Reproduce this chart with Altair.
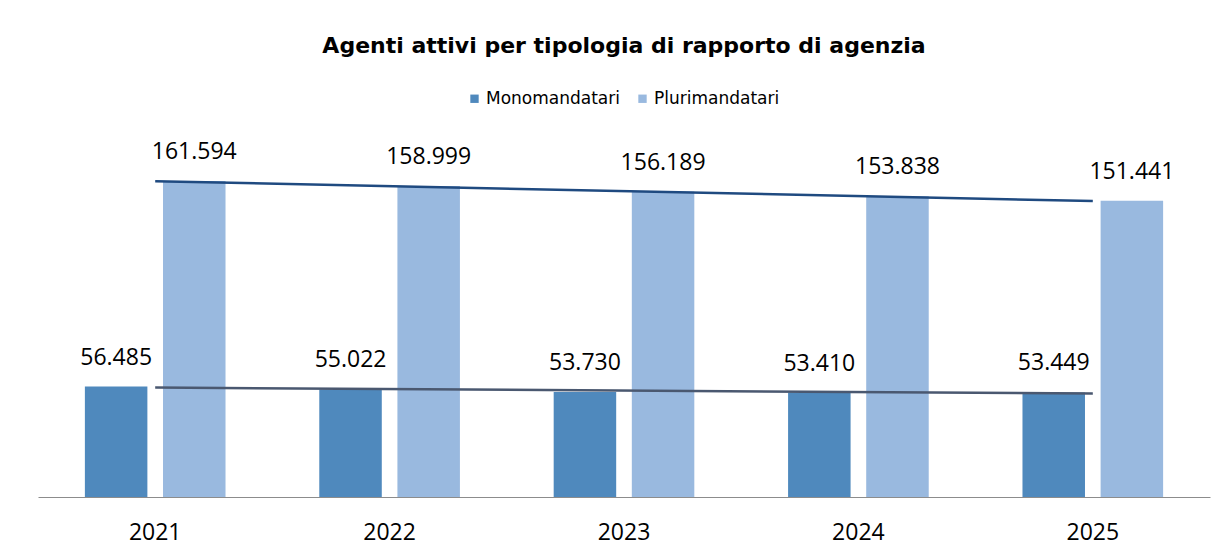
import altair as alt
import pandas as pd

years = [2021, 2022, 2023, 2024, 2025]
mono = [56485, 55022, 53730, 53410, 53449]
pluri = [161594, 158999, 156189, 153838, 151441]
series = ["Monomandatari", "Plurimandatari"]
bar_colors = ["#4F89BD", "#99B9DF"]
trend_colors = ["#4A5870", "#1F4A80"]

rows = []
for i, y in enumerate(years):
    rows.append({"year": y, "series": series[0], "value": mono[i]})
    rows.append({"year": y, "series": series[1], "value": pluri[i]})
df = pd.DataFrame(rows)

W, H = 1172, 352

x_enc = alt.X("year:O", title=None,
              scale=alt.Scale(paddingInner=0.4, paddingOuter=0.2),
              axis=alt.Axis(labelAngle=0, ticks=False, labelPadding=24,
                            labelFontSize=23, labelFont="Open Sans",
                            labelColor="#000000", domainColor="#8C8C8C",
                            domainWidth=1))
y_enc = alt.Y("value:Q", title=None, axis=None,
              scale=alt.Scale(domain=[0, 180000]))
xoff = alt.XOffset("series:N", scale=alt.Scale(paddingInner=0.2, paddingOuter=0))

base = alt.Chart(df)

bars = base.mark_bar().encode(
    x=x_enc, y=y_enc, xOffset=xoff,
    color=alt.Color("series:N", title=None,
                    scale=alt.Scale(domain=series, range=bar_colors),
                    legend=alt.Legend(orient="none", direction="horizontal",
                                      legendX=428, legendY=-55,
                                      symbolType="square", symbolSize=70,
                                      symbolStrokeWidth=0,
                                      labelFont="DejaVu Sans", labelFontSize=17,
                                      labelColor="#000000", columnPadding=14,
                                      labelOffset=3)),
)

labels = base.mark_text(baseline="bottom", dy=-17, font="Open Sans",
                        fontSize=23, color="#000000").encode(
    x=x_enc, y=y_enc, xOffset=xoff,
    text=alt.Text("value:Q", format=",.0f"),
)

trend = base.transform_regression(
    "year", "value", groupby=["series"]
).mark_line(strokeWidth=2.5).encode(
    x=x_enc, y=y_enc,
    stroke=alt.Stroke("series:N", scale=alt.Scale(domain=series, range=trend_colors),
                      legend=None),
)

chart = alt.layer(bars, trend, labels).properties(
    width=W, height=H,
    title=alt.Title("Agenti attivi per tipologia di rapporto di agenzia",
                    font="DejaVu Sans", fontSize=22, fontWeight="bold",
                    color="#000000", anchor="middle", offset=32),
    padding={"left": 30, "top": 27, "right": 5, "bottom": 5},
    background="#FFFFFF",
).configure_view(stroke=None, strokeWidth=0)

chart.save("out.html", embed_options={
    "renderer": "svg", "actions": False,
    "formatLocale": {"decimal": ",", "thousands": ".", "grouping": [3],
                     "currency": ["€", ""]},
})
